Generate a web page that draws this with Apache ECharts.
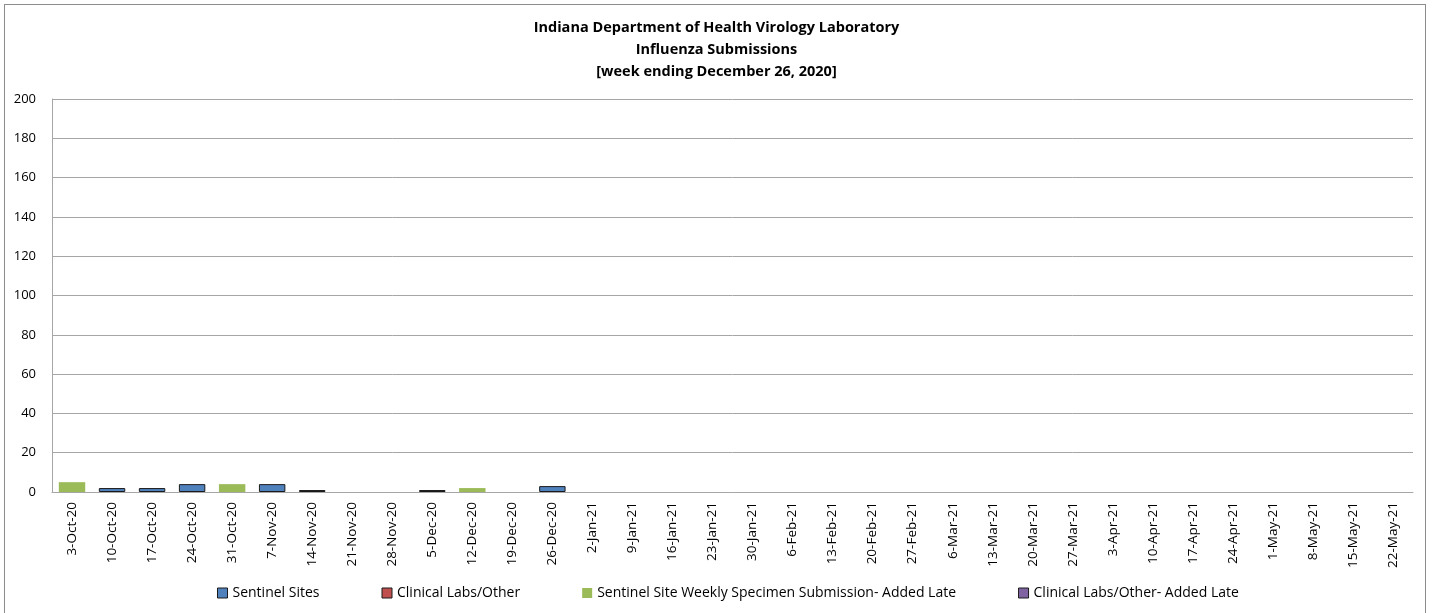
<!DOCTYPE html>
<html>
<head>
<meta charset="utf-8">
<title>Influenza Submissions</title>
<script src="https://cdn.jsdelivr.net/npm/echarts@6/dist/echarts.min.js"></script>
<style>
  html, body { margin: 0; padding: 0; background: #fff; }
  .frame {
    position: absolute; left: 4px; top: 4px; width: 1422px; height: 620px;
    border: 1px solid #8c8c8c; box-sizing: border-box;
  }
  #chart { width: 1433px; height: 613px; }
</style>
</head>
<body>
<div class="frame"></div>
<div id="chart"></div>
<script>
const weeks = [
  "3-Oct-20", "10-Oct-20", "17-Oct-20", "24-Oct-20", "31-Oct-20",
  "7-Nov-20", "14-Nov-20", "21-Nov-20", "28-Nov-20",
  "5-Dec-20", "12-Dec-20", "19-Dec-20", "26-Dec-20",
  "2-Jan-21", "9-Jan-21", "16-Jan-21", "23-Jan-21", "30-Jan-21",
  "6-Feb-21", "13-Feb-21", "20-Feb-21", "27-Feb-21",
  "6-Mar-21", "13-Mar-21", "20-Mar-21", "27-Mar-21",
  "3-Apr-21", "10-Apr-21", "17-Apr-21", "24-Apr-21",
  "1-May-21", "8-May-21", "15-May-21", "22-May-21"
];
const sentinelSites = [null, 2, 2, 4, null, 4, 1, null, null, null, null, null, 3];
const clinicalLabs = [];
const sentinelLate = [5, null, null, null, 4, null, null, null, null, null, 2, null, null];
const clinicalLate = [null, null, null, null, null, null, null, null, null, 1, null, null, null];
const yTicks = [0, 20, 40, 60, 80, 100, 120, 140, 160, 180, 200];

const font = "'Open Sans', 'Noto Sans', sans-serif";
const chart = echarts.init(document.getElementById("chart"));

function bar(name, data, color, border) {
  return {
    type: "bar",
    name: name,
    data: data,
    stack: "total",
    barWidth: "66%",
    itemStyle: {
      color: color,
      borderColor: border ? "#1a1a1a" : color,
      borderWidth: border ? 1 : 0,
    },
  };
}

chart.setOption({
  animation: false,
  title: {
    text: "Indiana Department of Health Virology Laboratory\nInfluenza Submissions\n[week ending December 26, 2020]",
    left: "center",
    top: 12,
    textStyle: {
      fontFamily: font,
      fontSize: 14.5,
      fontWeight: "bold",
      color: "#000",
      lineHeight: 22,
    },
  },
  legend: {
    bottom: 8,
    left: 212,
    itemGap: 62,
    itemWidth: 10,
    itemHeight: 10,
    icon: "rect",
    textStyle: { fontFamily: font, fontSize: 14, color: "#000" },
    data: [
      { name: "Sentinel Sites", itemStyle: { borderColor: "#1a1a1a", borderWidth: 1 } },
      { name: "Clinical Labs/Other", itemStyle: { borderColor: "#1a1a1a", borderWidth: 1 } },
      { name: "Sentinel Site Weekly Specimen Submission- Added Late" },
      { name: "Clinical Labs/Other- Added Late", itemStyle: { borderColor: "#1a1a1a", borderWidth: 1 } },
    ],
  },
  grid: { left: 52, right: 20, top: 99, bottom: 121 },
  xAxis: {
    type: "category",
    data: weeks,
    axisTick: { show: false },
    axisLine: { lineStyle: { color: "#a6a6a6", width: 1 } },
    axisLabel: {
      rotate: 90,
      interval: 0,
      margin: 10,
      fontFamily: font,
      fontSize: 13.5,
      color: "#000",
    },
  },
  yAxis: {
    type: "value",
    min: yTicks[0],
    max: yTicks[yTicks.length - 1],
    interval: 20,
    axisLine: { show: true, lineStyle: { color: "#a6a6a6" } },
    axisTick: { show: false },
    splitLine: { lineStyle: { color: "#a6a6a6", width: 1 } },
    axisLabel: { fontFamily: font, fontSize: 13, color: "#000", margin: 16 },
  },
  series: [
    bar("Sentinel Sites", sentinelSites, "#4f81bd", true),
    bar("Clinical Labs/Other", clinicalLabs, "#c0504d", true),
    bar("Sentinel Site Weekly Specimen Submission- Added Late", sentinelLate, "#9bbb59", false),
    bar("Clinical Labs/Other- Added Late", clinicalLate, "#8064a2", true),
  ],
});
</script>
</body>
</html>
